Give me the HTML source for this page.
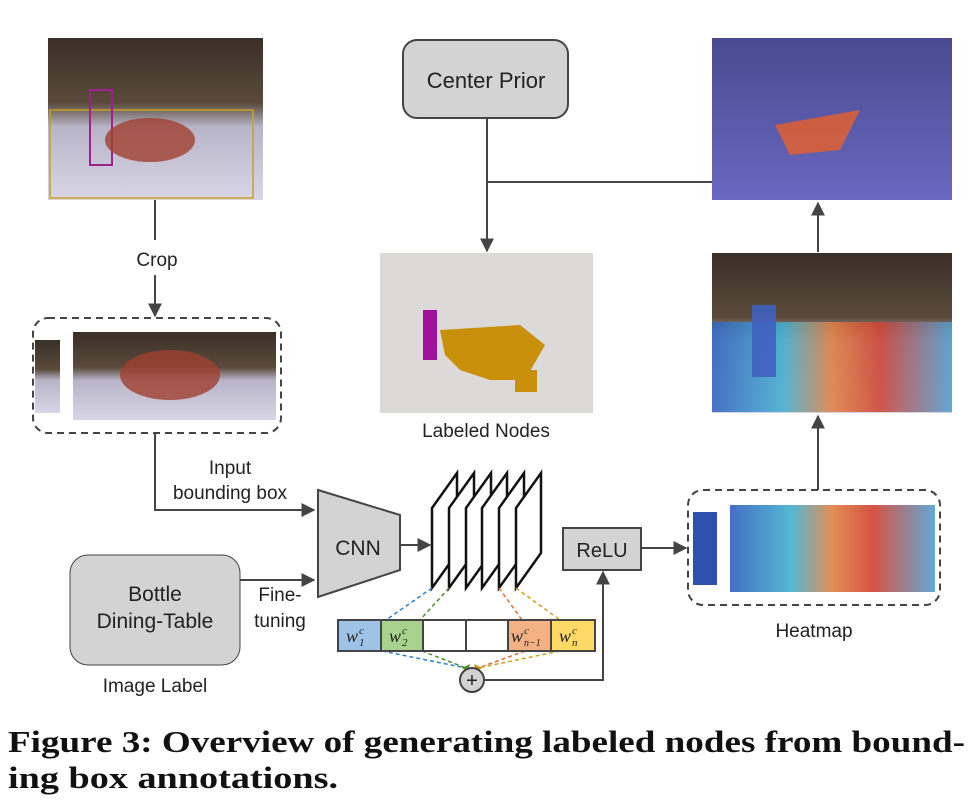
<!DOCTYPE html>
<html><head><meta charset="utf-8"><style>html,body{margin:0;padding:0;background:#fff}svg{display:block}</style></head>
<body>
<svg width="976" height="800" viewBox="0 0 976 800" xmlns="http://www.w3.org/2000/svg" font-family="Liberation Sans, sans-serif">
<defs>
<marker id="ar" viewBox="0 0 10 10" refX="9" refY="5" markerWidth="7" markerHeight="7" orient="auto"><path d="M0,0 L10,5 L0,10 z" fill="#444"/></marker>
<linearGradient id="photo" x1="0" y1="0" x2="0" y2="1"><stop offset="0" stop-color="#3a3028"/><stop offset="0.4" stop-color="#5a4a3a"/><stop offset="0.55" stop-color="#b8b4c8"/><stop offset="1" stop-color="#d8d6e6"/></linearGradient>
<linearGradient id="blue" x1="0" y1="0" x2="0" y2="1"><stop offset="0" stop-color="#4a4a90"/><stop offset="1" stop-color="#6868c0"/></linearGradient>
<linearGradient id="heat" x1="0" y1="0" x2="1" y2="0"><stop offset="0" stop-color="#3060c0"/><stop offset="0.3" stop-color="#40b0d0"/><stop offset="0.5" stop-color="#e08040"/><stop offset="0.7" stop-color="#d04030"/><stop offset="1" stop-color="#50a0d0"/></linearGradient>
</defs>
<g stroke="#444" stroke-width="2" fill="none">
<line x1="155" y1="200" x2="155" y2="240"/>
<line x1="155" y1="275" x2="155" y2="316" marker-end="url(#ar)"/>
<polyline points="155,433 155,510 314,510" marker-end="url(#ar)"/>
<line x1="240" y1="580" x2="314" y2="580" marker-end="url(#ar)"/>
<line x1="400" y1="545" x2="430" y2="545" marker-end="url(#ar)"/>
<line x1="487" y1="118" x2="487" y2="251" marker-end="url(#ar)"/>
<line x1="487" y1="182" x2="712" y2="182"/>
<line x1="818" y1="252" x2="818" y2="203" marker-end="url(#ar)"/>
<line x1="818" y1="490" x2="818" y2="416" marker-end="url(#ar)"/>
<line x1="641" y1="548" x2="686" y2="548" marker-end="url(#ar)"/>
<polyline points="484,680 603,680 603,572" marker-end="url(#ar)"/>
</g>
<rect x="48" y="38" width="215" height="162" fill="url(#photo)"/>
<rect x="50" y="110" width="203" height="88" fill="none" stroke="#c8a020" stroke-width="1.5"/>
<rect x="90" y="90" width="22" height="75" fill="none" stroke="#a02090" stroke-width="2"/>
<ellipse cx="150" cy="140" rx="45" ry="22" fill="#a04030" opacity="0.8"/>
<rect x="712" y="38" width="240" height="162" fill="url(#blue)"/>
<polygon points="775,125 860,110 840,150 790,155" fill="#e06030" opacity="0.85"/>
<rect x="712" y="253" width="240" height="160" fill="url(#photo)"/>
<rect x="712" y="322" width="240" height="90" fill="url(#heat)" opacity="0.85"/>
<rect x="752" y="305" width="24" height="72" fill="#4060c0" opacity="0.9"/>
<rect x="380" y="253" width="213" height="160" fill="#dcdad8"/>
<polygon points="440,330 520,325 545,345 525,380 490,380 460,370 445,355" fill="#c8900a"/>
<rect x="423" y="310" width="14" height="50" fill="#a0109a"/>
<rect x="515" y="370" width="22" height="22" fill="#c8900a"/>
<rect x="33" y="318" width="248" height="115" rx="15" fill="none" stroke="#444" stroke-width="2" stroke-dasharray="7,5"/>
<rect x="35" y="340" width="25" height="73" fill="url(#photo)"/>
<rect x="73" y="332" width="203" height="88" fill="url(#photo)"/>
<ellipse cx="170" cy="375" rx="50" ry="25" fill="#a04030" opacity="0.8"/>
<rect x="688" y="490" width="252" height="115" rx="15" fill="none" stroke="#444" stroke-width="2" stroke-dasharray="7,5"/>
<rect x="693" y="512" width="24" height="73" fill="#3050b0"/>
<rect x="730" y="505" width="205" height="87" fill="url(#heat)" opacity="0.9"/>
<rect x="403" y="40" width="165" height="78" rx="14" fill="#d3d3d3" stroke="#444" stroke-width="2"/>
<text x="486" y="88" font-size="22" text-anchor="middle" fill="#222">Center Prior</text>
<rect x="70" y="555" width="170" height="110" rx="18" fill="#d3d3d3" stroke="#444" stroke-width="1"/>
<text x="155" y="601" font-size="21" text-anchor="middle" fill="#222">Bottle</text>
<text x="155" y="628" font-size="21" text-anchor="middle" fill="#222">Dining-Table</text>
<polygon points="318,490 400,515 400,570 318,597" fill="#d3d3d3" stroke="#444" stroke-width="2"/>
<text x="358" y="555" font-size="21" text-anchor="middle" fill="#222">CNN</text>
<rect x="563" y="528" width="78" height="42" fill="#d3d3d3" stroke="#444" stroke-width="2"/>
<text x="602" y="557" font-size="20" text-anchor="middle" fill="#222">ReLU</text>
<g fill="#fff" stroke="#111" stroke-width="2.5">
<polygon points="432,588 432,508 457,473 457,553"/>
<polygon points="449,588 449,508 474,473 474,553"/>
<polygon points="466,588 466,508 491,473 491,553"/>
<polygon points="482,588 482,508 507,473 507,553"/>
<polygon points="499,588 499,508 524,473 524,553"/>
<polygon points="516,588 516,508 541,473 541,553"/>
</g>
<g stroke-width="1.5" stroke-dasharray="4,3" fill="none">
<line x1="432" y1="588" x2="386" y2="620" stroke="#3080d0"/>
<line x1="449" y1="588" x2="420" y2="620" stroke="#509030"/>
<line x1="499" y1="588" x2="522" y2="620" stroke="#e07030"/>
<line x1="516" y1="588" x2="560" y2="620" stroke="#d0a020"/>
<line x1="382" y1="651" x2="466" y2="668" stroke="#3080d0"/>
<line x1="422" y1="651" x2="466" y2="668" stroke="#509030"/>
<line x1="525" y1="651" x2="478" y2="668" stroke="#e07030"/>
<line x1="560" y1="651" x2="478" y2="668" stroke="#d0a020"/>
</g>
<polygon points="462,668 470,664 468,672" fill="#509030"/>
<polygon points="482,668 474,664 476,672" fill="#c09010"/>
<g stroke="#444" stroke-width="2">
<rect x="338" y="620" width="43" height="31" fill="#9dc3e6"/>
<rect x="381" y="620" width="42" height="31" fill="#a9d18e"/>
<rect x="423" y="620" width="43" height="31" fill="#fff"/>
<rect x="466" y="620" width="42" height="31" fill="#fff"/>
<rect x="508" y="620" width="43" height="31" fill="#f4b183"/>
<rect x="551" y="620" width="44" height="31" fill="#ffd966"/>
</g>
<g font-family="Liberation Serif, serif" font-style="italic" fill="#222">
<text x="346" y="642" font-size="18">w</text><text x="359" y="646" font-size="11">1</text><text x="359" y="634" font-size="11">c</text>
<text x="389" y="642" font-size="18">w</text><text x="402" y="646" font-size="11">2</text><text x="402" y="634" font-size="11">c</text>
<text x="511" y="642" font-size="18">w</text><text x="524" y="646" font-size="10">n−1</text><text x="524" y="634" font-size="11">c</text>
<text x="559" y="642" font-size="18">w</text><text x="572" y="646" font-size="11">n</text><text x="572" y="634" font-size="11">c</text>
</g>
<circle cx="472" cy="680" r="12" fill="#d3d3d3" stroke="#444" stroke-width="2"/>
<text x="472" y="687" font-size="20" text-anchor="middle" fill="#222">+</text>
<g font-size="19" fill="#222" text-anchor="middle">
<text x="157" y="266">Crop</text>
<text x="230" y="474">Input</text>
<text x="230" y="499">bounding box</text>
<text x="280" y="601">Fine-</text>
<text x="280" y="627">tuning</text>
<text x="155" y="692">Image Label</text>
<text x="486" y="437">Labeled Nodes</text>
<text x="814" y="637">Heatmap</text>
</g>
<g font-family="Liberation Serif, serif" font-weight="600" font-size="31" fill="#111">
<text x="8" y="752" textLength="957" lengthAdjust="spacingAndGlyphs">Figure 3: Overview of generating labeled nodes from bound-</text>
<text x="8" y="788" textLength="330" lengthAdjust="spacingAndGlyphs">ing box annotations.</text>
</g>
</svg>
</body></html>
